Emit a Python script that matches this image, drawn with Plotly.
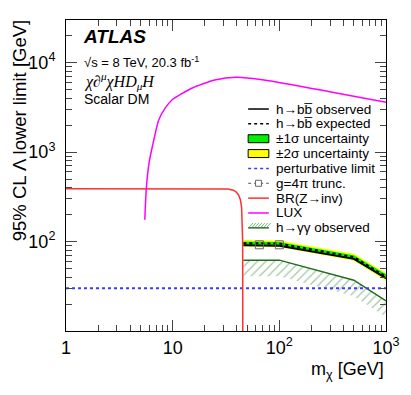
import numpy as np
import plotly.graph_objects as go

## Datos

# h->bb (masas de DM en GeV)
mchi = [46, 65, 100, 500, 1000]
bb_obs = [91, 91, 90, 64, 39]
bb_exp = [96, 96, 95, 67, 40.5]
sig1_lo = [91, 91, 90, 63, 38]
sig1_hi = [100, 100, 99, 70.5, 43]
sig2_lo = [88, 88, 87, 61, 36.5]
sig2_hi = [104, 104, 103, 73, 44.5]

# g = 4pi truncación
trunc_x = [65, 100]
trunc_y = [92, 92]

# h->gammagamma observado
gg_obs = [62, 62, 62, 37, 21.7]

# límite perturbativo
pert_x = [1, 1000]
pert_y = [30, 30]

# BR(Z->inv)
br_x = [1, 20, 33, 37, 39.5, 41.6, 43.2, 44.3, 44.9, 45.3, 45.5]
br_y = [390, 390, 386, 375, 358, 330, 292, 240, 170, 100, 5]

# LUX
lux_x = [5.48, 5.67, 6.0, 6.5, 7.4, 8.5, 9.85, 15.1, 24.8, 39.3, 71.8, 296, 1000]
lux_y = [175, 400, 750, 1200, 2290, 3100, 3830, 5180, 6410, 6870, 6410, 4740, 3600]

## Figura

# la página tiene 8 px de margen en el body, así que lo compenso
OFF = 8
W, H = 411 - OFF, 395 - OFF
L, R, T, B = 66 - OFF, 20, 19 - OFF, 64

fig = go.Figure()

# bandas
fig.add_trace(go.Scatter(x=mchi + mchi[::-1], y=sig2_hi + sig2_lo[::-1], fill="toself",
                         fillcolor="#ffff00", line=dict(width=0), mode="lines", hoverinfo="skip"))
fig.add_trace(go.Scatter(x=mchi + mchi[::-1], y=sig1_hi + sig1_lo[::-1], fill="toself",
                         fillcolor="#00f000", line=dict(width=0), mode="lines", hoverinfo="skip"))
fig.add_trace(go.Scatter(x=mchi, y=bb_exp, mode="lines", line=dict(color="black", width=2, dash="dot")))
fig.add_trace(go.Scatter(x=mchi, y=bb_obs, mode="lines", line=dict(color="black", width=2)))
fig.add_trace(go.Scatter(x=trunc_x, y=trunc_y, mode="markers+lines",
                         line=dict(color="#555", width=1, dash="dot"),
                         marker=dict(symbol="square-open", size=8, color="#666", line=dict(width=1))))

# h->gammagamma con rayado
gg_low = [v * 0.66 for v in gg_obs]
fig.add_trace(go.Scatter(x=mchi + mchi[::-1], y=gg_obs + gg_low[::-1], fill="toself",
                         fillcolor="rgba(0,0,0,0)", line=dict(width=0), mode="lines",
                         fillpattern=dict(shape="/", fgcolor="#3f8f3f", bgcolor="rgba(0,0,0,0)",
                                          size=6, solidity=0.2),
                         hoverinfo="skip"))
fig.add_trace(go.Scatter(x=mchi, y=gg_obs, mode="lines", line=dict(color="#1f6e1f", width=1.5)))

fig.add_trace(go.Scatter(x=pert_x, y=pert_y, mode="lines", line=dict(color="#3a3aff", width=2, dash="dot")))
fig.add_trace(go.Scatter(x=br_x, y=br_y, mode="lines", line=dict(color="#ff3030", width=1.5)))
fig.add_trace(go.Scatter(x=lux_x, y=lux_y, mode="lines", line=dict(color="#ff00ff", width=1.5,
                                                                  shape="spline", smoothing=0.6)))

minor_x = [m * 10 ** d for d in range(0, 3) for m in range(2, 10)]
minor_y = [m * 10 ** d for d in range(1, 5) for m in range(2, 10)]

font = "Liberation Sans, Arial, sans-serif"

fig.update_xaxes(type="log", range=[0, 3], tickmode="array",
                 tickvals=[1, 10, 100, 1000],
                 ticktext=["1", "10", "10<sup>2</sup>", "10<sup>3</sup>"],
                 ticks="inside", ticklen=11, tickcolor="#444", mirror="allticks",
                 showline=True, linecolor="black", linewidth=1, showgrid=False, zeroline=False,
                 ticklabeloverflow="allow",
                 tickfont=dict(size=18, color="black", family=font),
                 minor=dict(tickmode="array", tickvals=minor_x, ticks="inside", ticklen=6,
                            tickcolor="#444", showgrid=False))
fig.update_yaxes(type="log", range=[1, np.log10(30000)], tickmode="array",
                 tickvals=[100, 1000, 10000],
                 ticktext=["10<sup>2</sup>", "10<sup>3</sup>", "10<sup>4</sup>"],
                 ticks="inside", ticklen=11, tickcolor="#444", mirror="allticks",
                 showline=True, linecolor="black", linewidth=1, showgrid=False, zeroline=False,
                 ticklabelstandoff=6,
                 tickfont=dict(size=18, color="black", family=font),
                 minor=dict(tickmode="array", tickvals=minor_y, ticks="inside", ticklen=6,
                            tickcolor="#444", showgrid=False))

# conversión pixel (de la captura) -> paper
def px(x):
    return (x - OFF - L) / (W - L - R)

def py(y):
    return (H - B - (y - OFF)) / (H - T - B)

ann = []
shapes = []

def text(s, x, y, size=13, anchor="left", fam=font, **kw):
    ann.append(dict(text=s, x=px(x), y=py(y), xref="paper", yref="paper",
                    xanchor=anchor, yanchor="middle", align="left", showarrow=False,
                    font=dict(size=size, color="black", family=fam), **kw))

# títulos de ejes
ann.append(dict(text="95% CL Λ lower limit [GeV]", x=px(19), y=py(17), xref="paper", yref="paper",
                textangle=-90, xanchor="center", yanchor="top", showarrow=False,
                font=dict(size=18.5, color="black", family=font)))
text("m<sub>χ</sub> [GeV]", 391, 371, size=18, anchor="right")

# textos ATLAS
text("<b><i>ATLAS</i></b>", 81, 36, size=19)
text("√s = 8 TeV, 20.3 fb<sup>-1</sup>", 82, 61, size=13)
text("<i>χ∂<sup>μ</sup>χHD<sub>μ</sub>H</i>", 82, 80, size=16, fam="Liberation Serif, serif")
text("Scalar DM", 82, 98, size=14)

# leyenda manual
labels = ["h→bb\u0305 observed", "h→bb\u0305 expected", "±1σ uncertainty", "±2σ uncertainty",
          "perturbative limit", "g=4π trunc.", "BR(Z→inv)", "LUX", "h→γγ observed"]
x0, x1, xt = 251, 272, 277

def row(i):
    return 108.3 + 14.9 * i

for i, lab in enumerate(labels):
    text(lab, xt, row(i), size=13.5)

def seg(xa, ya, xb, yb, color, width=1.5, dash="solid"):
    shapes.append(dict(type="line", xref="paper", yref="paper", x0=px(xa), y0=py(ya),
                       x1=px(xb), y1=py(yb), line=dict(color=color, width=width, dash=dash)))

seg(x0, row(0), x1, row(0), "black", 1.5)
seg(x0, row(1), x1, row(1), "black", 1.5, "dot")
for i, c in [(2, "#00f000"), (3, "#ffff00")]:
    shapes.append(dict(type="rect", xref="paper", yref="paper", x0=px(x0), x1=px(x1),
                       y0=py(row(i) - 4), y1=py(row(i) + 4), fillcolor=c,
                       line=dict(color="black", width=1)))
seg(x0, row(4), x1, row(4), "#3a3aff", 1.5, "dot")
seg(x0, row(5), x1, row(5), "#555", 1, "dot")
shapes.append(dict(type="rect", xref="paper", yref="paper", x0=px(258.5), x1=px(264.5),
                   y0=py(row(5) - 3), y1=py(row(5) + 3), fillcolor="white",
                   line=dict(color="#666", width=1)))
seg(x0, row(6), x1, row(6), "#ff3030", 1.5)
seg(x0, row(7), x1, row(7), "#ff00ff", 1.5)
seg(x0, row(8), x1, row(8), "#1f6e1f", 1.5)
for k in range(7):
    xa = x0 + 1 + 3 * k
    seg(xa, row(8) - 0.5, xa + 4, row(8) - 5, "#7bbf7b", 1)

fig.update_layout(width=W, height=H, margin=dict(l=L, r=R, t=T, b=B),
                  plot_bgcolor="white", paper_bgcolor="white", showlegend=False,
                  annotations=ann, shapes=shapes, font=dict(family=font, color="black"))

fig.write_html("out.html")
